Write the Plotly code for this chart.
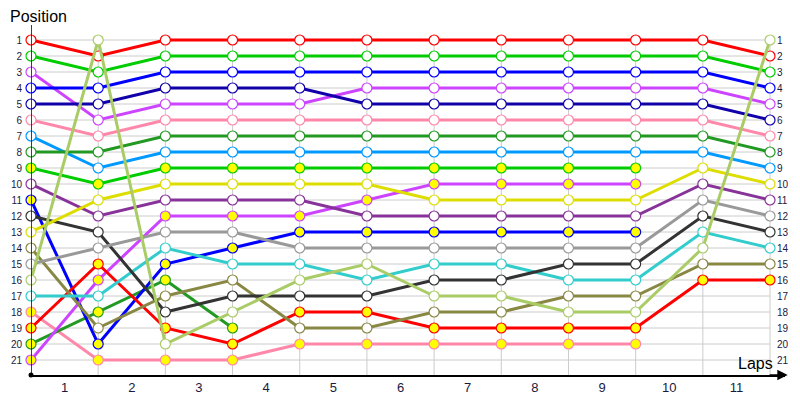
import plotly.graph_objects as go

laps = list(range(12))
lap_labels = [str(i) for i in range(1, 12)]
positions = list(range(1, 22))

# position after each lap (lap 0 = grid), None = retired / not classified
red = [1, 2, 1, 1, 1, 1, 1, 1, 1, 1, 1, 2]
green = [2, 3, 2, 2, 2, 2, 2, 2, 2, 2, 2, 3]
blue = [4, 4, 3, 3, 3, 3, 3, 3, 3, 3, 3, 4]
violet = [3, 6, 5, 5, 5, 4, 4, 4, 4, 4, 4, 5]
navy = [5, 5, 4, 4, 4, 5, 5, 5, 5, 5, 5, 6]
pink = [6, 7, 6, 6, 6, 6, 6, 6, 6, 6, 6, 7]
forest = [8, 8, 7, 7, 7, 7, 7, 7, 7, 7, 7, 8]
sky = [7, 9, 8, 8, 8, 8, 8, 8, 8, 8, 8, 9]
yellow = [13, 11, 10, 10, 10, 10, 11, 11, 11, 11, 9, 10]
plum = [10, 12, 11, 11, 11, 12, 12, 12, 12, 12, 10, 11]
grey = [15, 14, 13, 13, 14, 14, 14, 14, 14, 14, 11, 12]
black = [12, 13, 18, 17, 17, 17, 16, 16, 15, 15, 12, 13]
cyan = [17, 17, 14, 15, 15, 16, 15, 15, 16, 16, 13, 14]
olive = [14, 19, 17, 16, 19, 19, 18, 18, 17, 17, 15, 15]
red_b = [19, 15, 19, 20, 18, 18, 19, 19, 19, 19, 16, 16]
green_b = [9, 10, 9, 9, 9, 9, 9, 9, 9, 9, None, None]
violet_b = [21, 16, 12, 12, 12, 11, 10, 10, 10, 10, None, None]
blue_b = [11, 20, 15, 14, 13, 13, 13, 13, 13, 13, None, None]
forest_b = [20, 18, 16, 19, None, None, None, None, None, None, None, None]
pink_b = [18, 21, 21, 21, 20, 20, 20, 20, 20, 20, None, None]
lime = [16, 1, 20, 18, 16, 15, 17, 17, 18, 18, 14, 1]

series = [
    (pink_b, "#ff88aa", "#ffff00"),
    (forest_b, "#229922", "#ffff00"),
    (blue_b, "#0000ff", "#ffff00"),
    (violet_b, "#cc44ff", "#ffff00"),
    (green_b, "#00cc00", "#ffff00"),
    (red_b, "#ff0000", "#ffff00"),
    (olive, "#888844", "white"),
    (cyan, "#33cccc", "white"),
    (black, "#333333", "white"),
    (grey, "#999999", "white"),
    (plum, "#883399", "white"),
    (yellow, "#dddd00", "white"),
    (sky, "#0099ff", "white"),
    (forest, "#229922", "white"),
    (pink, "#ff88aa", "white"),
    (violet, "#cc44ff", "white"),
    (navy, "#1100aa", "white"),
    (blue, "#0000ff", "white"),
    (green, "#00cc00", "white"),
    (red, "#ff0000", "white"),
    (lime, "#aacc66", "white"),
]

x_max = 11.223
y_top = 0.0625
y_bottom = 21.9375

fig = go.Figure()

# grid
for p in positions:
    fig.add_shape(type="line", x0=laps[0], x1=laps[-1], y0=p, y1=p,
                  line=dict(color="#cccccc", width=1), layer="below")
for lap in laps[1:]:
    fig.add_shape(type="line", x0=lap, x1=lap, y0=0.7, y1=y_bottom,
                  line=dict(color="#cccccc", width=1), layer="below")

for values, color, fill in series:
    fig.add_trace(go.Scatter(
        x=laps, y=values, mode="lines+markers",
        line=dict(color=color, width=3),
        marker=dict(size=10, color=fill, line=dict(color=color, width=1.2)),
        cliponaxis=False, showlegend=False, hoverinfo="skip",
    ))

# vertical axis line with dots at its ends
fig.add_shape(type="line", x0=0, x1=0, y0=y_top - 0.55, y1=y_bottom,
              line=dict(color="black", width=1.5))
fig.add_trace(go.Scatter(
    x=[0, 0], y=[y_top - 0.55, y_bottom], mode="markers",
    marker=dict(size=5, color="black"), cliponaxis=False,
    showlegend=False, hoverinfo="skip",
))

# right-hand position labels
for p in positions:
    fig.add_annotation(x=laps[-1], y=p, text=str(p), showarrow=False,
                       xanchor="left", xshift=5,
                       font=dict(family="Liberation Sans", size=10, color="#1a1a40"))

# x-axis arrow
fig.add_annotation(x=x_max + 0.04, y=y_bottom, ax=x_max - 0.25, ay=y_bottom,
                   xref="x", yref="y", axref="x", ayref="y", text="",
                   showarrow=True, arrowhead=2, arrowsize=1.6, arrowwidth=1.3,
                   arrowcolor="black")

fig.add_annotation(xref="paper", yref="paper", x=-0.03, y=1.0, text="Position",
                   showarrow=False, xanchor="left", yanchor="bottom", yshift=-2,
                   font=dict(family="Liberation Sans", size=16, color="black"))
fig.add_annotation(xref="paper", yref="paper", x=0.987, y=0, text="Laps",
                   showarrow=False, xanchor="right", yanchor="bottom", yshift=1,
                   font=dict(family="Liberation Sans", size=16, color="black"))

# the page body adds an 8px margin, so the figure is 8px smaller and offset
fig.update_layout(
    width=792, height=392,
    margin=dict(l=23, r=15, t=17, b=25, autoexpand=False),
    plot_bgcolor="white", paper_bgcolor="white",
    xaxis=dict(
        range=[0, x_max], automargin=False,
        tickvals=[i + 0.5 for i in laps[:-1]], ticktext=lap_labels,
        showgrid=False, zeroline=False, ticks="",
        showline=True, linecolor="black", linewidth=1.5,
        tickfont=dict(family="Liberation Sans", size=13, color="#1a1a40"),
    ),
    yaxis=dict(
        range=[y_bottom, y_top], automargin=False,
        tickvals=positions, ticktext=[str(p) for p in positions],
        showgrid=False, zeroline=False, ticks="", showline=False,
        ticklabelstandoff=8,
        tickfont=dict(family="Liberation Sans", size=10, color="#1a1a40"),
    ),
)

fig.write_html("out.html")
